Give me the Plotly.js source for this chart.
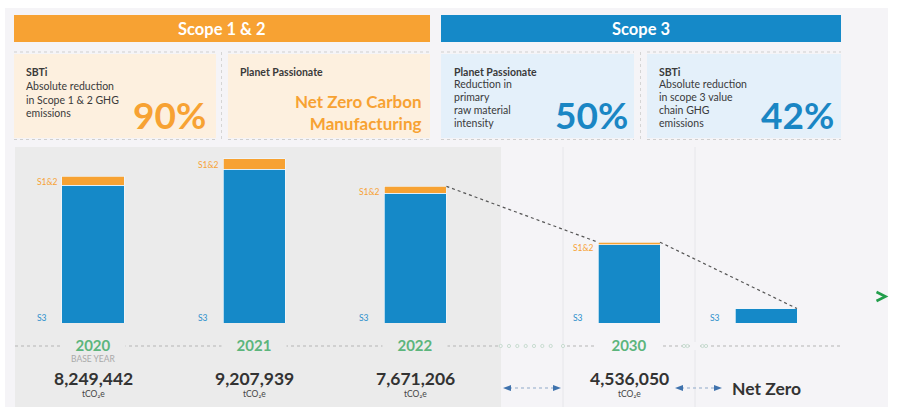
<!DOCTYPE html>
<html>
<head>
<meta charset="utf-8">
<script src="https://cdn.plot.ly/plotly-3.0.1.min.js"></script>
<style>html,body{margin:0;padding:0;background:#fff;}#chart{width:897px;height:407px;}</style>
</head>
<body>
<div id="chart"></div>
<script>
// ---------- DATA ----------
const categories = ['2020', '2021', '2022', '2030', 'Net Zero'];
const totals = [8249442, 9207939, 7671206, 4536050, 810000];      // tCO2e (Net Zero residual estimated)
const scope12 = [530000, 570000, 390000, 150000, 0];               // S1&2 share
const yearLabels = ['2020', '2021', '2022', '2030', ''];
const yearNotes = ['BASE YEAR', '', '', '', ''];
const totalLabels = ['8,249,442', '9,207,939', '7,671,206', '4,536,050', 'Net Zero'];
const unitLabels = ['tCO₂e', 'tCO₂e', 'tCO₂e', 'tCO₂e', ''];
const scope3 = totals.map((t, i) => t - scope12[i]);

// ---------- HELPERS ----------
const W = 897, H = 407;
const X = p => p / W;
const Y = p => 1 - p / H;
const FONT = 'Lato, "Open Sans", "DejaVu Sans", sans-serif';
const ORANGE = '#f7a233', BLUE = '#1589c8', GREEN = '#5cb57c', DARK = '#333333';
const BG = '#f5f4f7', PANEL = '#ebebeb';

const leftIdx = [0, 1, 2], rightIdx = [3, 4];
const wL = 0.385, wR = 0.4526;
const pick = (arr, idx) => idx.map(i => arr[i]);
const nz = v => (v === 0 ? null : v);

const barLine = {width: 0.8, color: 'rgba(240,246,251,0.9)'};
const data = [
  {type: 'bar', name: 'S3', x: pick(categories, leftIdx), y: pick(scope3, leftIdx), xaxis: 'x', yaxis: 'y',
   width: wL, marker: {color: BLUE, line: barLine}, hoverinfo: 'skip'},
  {type: 'bar', name: 'S1&2', x: pick(categories, leftIdx), y: pick(scope12, leftIdx).map(nz), xaxis: 'x', yaxis: 'y',
   width: wL, marker: {color: ORANGE, line: barLine}, hoverinfo: 'skip'},
  {type: 'bar', name: 'S3', x: pick(categories, rightIdx), y: pick(scope3, rightIdx), xaxis: 'x2', yaxis: 'y',
   width: wR, marker: {color: BLUE, line: barLine}, hoverinfo: 'skip'},
  {type: 'bar', name: 'S1&2', x: pick(categories, rightIdx), y: pick(scope12, rightIdx).map(nz), xaxis: 'x2', yaxis: 'y',
   width: wR, marker: {color: ORANGE, line: barLine}, hoverinfo: 'skip'}
];

// ---------- SHAPES (decoration) ----------
const shapes = [];
const rect = (x0, y0, x1, y1, fill, extra) => shapes.push(Object.assign({type: 'rect', xref: 'paper', yref: 'paper',
  x0: X(x0), x1: X(x1), y0: Y(y1), y1: Y(y0), fillcolor: fill, line: {width: 0}, layer: 'below'}, extra || {}));
const line = (x0, y0, x1, y1, color, dash, width, layer) => shapes.push({type: 'line', xref: 'paper', yref: 'paper',
  x0: X(x0), x1: X(x1), y0: Y(y0), y1: Y(y1), line: {color: color, dash: dash || 'solid', width: width || 1}, layer: layer || 'below'});

rect(5, 8, 888, 407, BG);
rect(15, 147, 501, 407, PANEL);
rect(14, 15, 430, 42, ORANGE);
rect(441, 15, 841, 42, BLUE);
rect(14, 54, 216, 138, '#fdf0df');
rect(228, 54, 430, 138, '#fdf0df');
rect(441, 54, 634, 138, '#e4f0fa');
rect(647, 54, 841, 138, '#e4f0fa');
[[14, 216], [228, 430], [441, 634], [647, 841]].forEach(([a, b]) => {
  line(a, 52, b, 52, '#cfcfcf', 'dot', 1);
  line(a, 139.5, b, 139.5, '#cfcfcf', 'dot', 1);
});
line(221.5, 52, 221.5, 139, '#d5d5d5', 'dot', 1);
line(640.5, 52, 640.5, 139, '#d5d5d5', 'dot', 1);
line(563, 147, 563, 407, '#e6e6ea', 'solid', 1);
line(695, 147, 695, 407, '#e6e6ea', 'solid', 1);
// timeline
line(15, 346, 841, 346, '#b5b5b5', 'dot', 1);
rect(501, 342, 562, 350, BG);
[500.7, 509, 517.3, 525.7, 534, 542.3, 550.7, 563, 684, 687.5, 702.5, 706].forEach(cx => {
  shapes.push({type: 'circle', xref: 'paper', yref: 'paper', x0: X(cx - 1.6), x1: X(cx + 1.6), y0: Y(347.6), y1: Y(344.4),
    line: {color: '#bcd6c6', width: 0.8}, fillcolor: BG, layer: 'below'});
});
rect(690, 342, 700, 350, BG);
// arrows
const arrow = (a, b, y) => {
  line(a + 6, y, b - 6, y, '#8fa9c9', 'dot', 1, 'above');
  shapes.push({type: 'path', xref: 'paper', yref: 'paper', fillcolor: '#3f72ad', line: {width: 0},
    path: `M${X(a)},${Y(y)} L${X(a + 8)},${Y(y - 3)} L${X(a + 8)},${Y(y + 3)} Z`});
  shapes.push({type: 'path', xref: 'paper', yref: 'paper', fillcolor: '#3f72ad', line: {width: 0},
    path: `M${X(b)},${Y(y)} L${X(b - 8)},${Y(y - 3)} L${X(b - 8)},${Y(y + 3)} Z`});
};
arrow(503, 561, 388);
arrow(675, 722, 388);
// green chevron
shapes.push({type: 'path', xref: 'paper', yref: 'paper', line: {color: '#229e4b', width: 2.6},
  path: `M${X(876.5)},${Y(292)} L${X(885.5)},${Y(296.5)} L${X(876.5)},${Y(301)}`});

// ---------- ANNOTATIONS ----------
const annotations = [];
const txt = (text, x, y, size, color, xanchor, extra) => annotations.push(Object.assign({
  text: text, xref: 'paper', yref: 'paper', x: X(x), y: Y(y), xanchor: xanchor || 'center', yanchor: 'middle',
  showarrow: false, font: {family: FONT, size: size, color: color}, borderpad: 0}, extra || {}));

txt('<b>Scope 1 & 2</b>', 222, 29, 16.5, '#ffffff');
txt('<b>Scope 3</b>', 641, 29, 16.5, '#ffffff');

const TXT = '#3a3a3a';
const block = (lines, x, ys) => lines.forEach((l, i) => txt(l, x, ys[i], 10.5, TXT, 'left'));
block(['<b>SBTi</b>', 'Absolute reduction', 'in Scope 1 & 2 GHG', 'emissions'], 25, [71.7, 85.7, 99.5, 113.3]);
block(['<b>Planet Passionate</b>'], 239, [71.7]);
const ys5 = [71.7, 84.5, 97.2, 110, 122.7];
block(['<b>Planet Passionate</b>', 'Reduction in', 'primary', 'raw material', 'intensity'], 453, ys5);
block(['<b>SBTi</b>', 'Absolute reduction', 'in scope 3 value', 'chain GHG', 'emissions'], 657.5, ys5);

txt('<b>90%</b>', 207, 114, 37, ORANGE, 'right');
txt('<b>50%</b>', 629, 114, 37, '#1a86c4', 'right');
txt('<b>42%</b>', 835, 114, 37, '#1a86c4', 'right');
txt('<b>Net Zero Carbon</b><br><b>Manufacturing</b>', 423, 112, 17, ORANGE, 'right', {align: 'right'});

// data-linked labels
categories.forEach((c, i) => {
  const isLeft = i < 3;
  const xref = isLeft ? 'x' : 'x2';
  const xi = isLeft ? i : i - 3;
  const base = {xref: xref, x: xi, showarrow: false};
  const bg = isLeft ? PANEL : BG;
  if (yearLabels[i]) {
    annotations.push(Object.assign({}, base, {yref: 'paper', y: Y(345), yanchor: 'middle', width: 64, height: 16,
      text: '<b>' + yearLabels[i] + '</b>', bgcolor: bg, borderpad: 0,
      font: {family: FONT, size: 15, color: GREEN}}));
  }
  if (yearNotes[i]) {
    annotations.push(Object.assign({}, base, {yref: 'paper', y: Y(359), yanchor: 'middle', text: yearNotes[i],
      font: {family: FONT, size: 8.5, color: '#a9a9a9'}}));
  }
  annotations.push(Object.assign({}, base, {yref: 'paper', y: Y(unitLabels[i] ? 378 : 388), yanchor: 'middle',
    text: '<b>' + totalLabels[i] + '</b>', font: {family: FONT, size: 17.5, color: DARK}}));
  if (unitLabels[i]) {
    annotations.push(Object.assign({}, base, {yref: 'paper', y: Y(394), yanchor: 'middle', text: unitLabels[i],
      font: {family: FONT, size: 8.5, color: '#444'}}));
  }
  const sh = -58;
  if (scope12[i] > 0) {
    annotations.push(Object.assign({}, base, {yref: 'y', y: totals[i], yanchor: 'middle', yshift: -6,
      xanchor: 'left', xshift: sh, text: 'S1&2', font: {family: FONT, size: 8.5, color: ORANGE}}));
  }
  annotations.push(Object.assign({}, base, {yref: 'y', y: 0, yanchor: 'middle', yshift: 5.5,
    xanchor: 'left', xshift: sh, text: 'S3', font: {family: FONT, size: 8.5, color: '#2a8fcb'}}));
});

const hidden = {visible: false, fixedrange: true, showgrid: false, zeroline: false};
const layout = {
  width: W, height: H,
  margin: {l: 0, r: 0, t: 0, b: 0, pad: 0},
  paper_bgcolor: '#ffffff', plot_bgcolor: 'rgba(0,0,0,0)',
  showlegend: false, barmode: 'stack',
  xaxis: Object.assign({type: 'category', domain: [X(12.4), X(496)], range: [-0.5, 2.5], anchor: 'y'}, hidden),
  xaxis2: Object.assign({type: 'category', domain: [X(560.5), X(834.5)], range: [-0.5, 1.5], anchor: 'y'}, hidden),
  yaxis: Object.assign({domain: [Y(323), Y(147)], range: [0, 9880000], anchor: 'x'}, hidden),
  shapes: shapes, annotations: annotations,
  font: {family: FONT}
};

const gd = document.getElementById('chart');
Plotly.newPlot(gd, data, layout, {staticPlot: true, displayModeBar: false}).then(() => {
  const fl = gd._fullLayout;
  const xa = fl.xaxis, xb = fl.xaxis2, ya = fl.yaxis;
  const px = (ax, v) => ax._offset + ax.l2p(v);
  const py = v => ya._offset + ya.l2p(v);
  const toP = (x, y) => [x / fl.width, 1 - y / fl.height];
  const A = toP(px(xa, 2 + wL / 2), py(totals[2]));
  const B = toP(px(xb, 0 - wR / 2), py(totals[3]));
  const C = toP(px(xb, 0 + wR / 2), py(totals[3]));
  const D = toP(px(xb, 1 + wR / 2), py(totals[4]));
  const seg = (p, q) => ({type: 'line', xref: 'paper', yref: 'paper', x0: p[0], y0: p[1], x1: q[0], y1: q[1],
    line: {color: '#555555', dash: 'dot', width: 1.2}, layer: 'above'});
  Plotly.relayout(gd, {shapes: shapes.concat([seg(A, B), seg(C, D)])});
});
</script>
</body>
</html>
